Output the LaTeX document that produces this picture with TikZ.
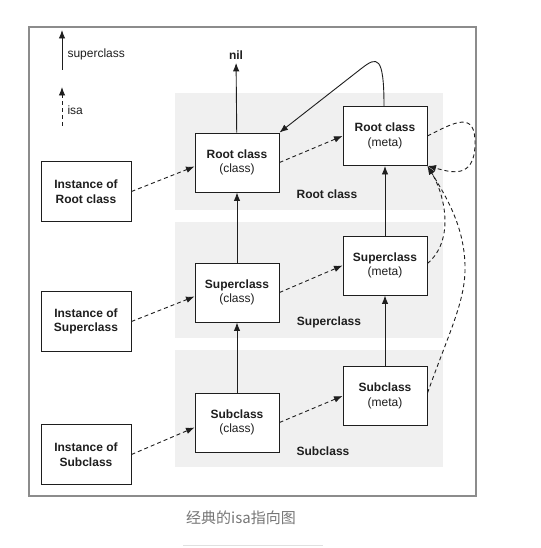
\documentclass[tikz,border=0pt]{standalone}
\usepackage{fontspec}
\setmainfont{Liberation Sans}
\newfontfamily\cjk{Noto Sans CJK SC}
\usetikzlibrary{arrows.meta}
\definecolor{bandgray}{RGB}{240,240,240}
\definecolor{framegray}{RGB}{140,140,140}
\definecolor{capgray}{RGB}{118,118,118}
\definecolor{ink}{RGB}{30,30,30}
\begin{document}
\begin{tikzpicture}[x=1pt,y=-1pt,
  box/.style={draw=ink,line width=0.95pt,fill=white,text=ink,minimum width=84pt,minimum height=59pt,align=center,inner sep=0pt,font=\fontsize{12}{14.5}\selectfont},
  inst/.style={box,minimum width=90pt,minimum height=60pt,font=\fontsize{12}{14.5}\selectfont\bfseries},
  band/.style={fill=bandgray,draw=none},
  supl/.style={line width=0.9pt,draw=ink,-{Latex[length=8.5pt,width=6.5pt]}},
  isal/.style={supl,dash pattern=on 4pt off 3pt},
  lbl/.style={text=ink,font=\fontsize{12}{14}\selectfont\bfseries},
  legtxt/.style={text=ink,anchor=west,font=\fontsize{12}{14}\selectfont},
]
\useasboundingbox (0,0) rectangle (540,548);
% frame
\draw[framegray,line width=1.4pt] (29,27) rectangle (476,496);
% bands
\fill[band] (175,93) rectangle (443,210);
\fill[band] (175,222) rectangle (443,338);
\fill[band] (175,350) rectangle (443,467);
% band labels
\node[lbl] (lblR) at (327,194) {Root class};
\node[lbl] (lblS) at (329,322) {Superclass};
\node[lbl] (lblB) at (323,451) {Subclass};
% legend
\coordinate (lsb) at (62,70);
\coordinate (lst) at (62,30);
\draw[supl] (lsb) -- (lst);
\node[legtxt] (lsuper) at (64,54) {superclass};
\coordinate (lib) at (62,126);
\coordinate (lit) at (62,87);
\draw[isal] (lib) -- (lit);
\node[legtxt] (lisa) at (64,110) {isa};
% instance boxes
\node[inst] (instR) at (86,191.5) {Instance of\\Root class};
\node[inst] (instS) at (86,321.5) {Instance of\\Superclass};
\node[inst] (instB) at (86,454.5) {Instance of\\Subclass};
% class boxes
\node[box] (classR) at (237,162.5) {\textbf{Root class}\\(class)};
\node[box] (classS) at (237,292.5) {\textbf{Superclass}\\(class)};
\node[box] (classB) at (237,422.5) {\textbf{Subclass}\\(class)};
% meta boxes
\node[box] (metaR) at (385,136) {\textbf{Root class}\\(meta)};
\node[box] (metaS) at (385,265.5) {\textbf{Superclass}\\(meta)};
\node[box] (metaB) at (385,396) {\textbf{Subclass}\\(meta)};
% nil
\node[lbl] (nil) at (236,55) {nil};
% superclass arrows
\draw[supl] (classR) -- (nil);
\draw[supl] (classS) -- (classR);
\draw[supl] (classB) -- (classS);
\draw[supl] (metaS) -- (metaR);
\draw[supl] (metaB) -- (metaS);
\draw[supl] ([xshift=-1pt]metaR.north) .. controls (384,55) and (377,56.5) .. (362,68) -- (classR.north east);
% isa arrows
\draw[isal] (instR.east) -- ([yshift=-4pt]classR.west);
\draw[isal] (instS.east) -- ([yshift=-4pt]classS.west);
\draw[isal] (instB.east) -- ([yshift=-5pt]classB.west);
\draw[isal] (classR.east) -- (metaR.west);
\draw[isal] (classS.east) -- (metaS.west);
\draw[isal] (classB.east) -- (metaB.west);
\draw[isal] (metaR.east) .. controls (455,122) and (476,110) .. (475,145) .. controls (474,180) and (450,172) .. (metaR.south east);
\draw[isal] ([yshift=2pt]metaS.east) .. controls (455,240) and (445,195) .. (metaR.south east);
\draw[isal] ([yshift=3pt]metaB.east) .. controls (450,330) and (466,300) .. (465,265) .. controls (464,225) and (445,195) .. (metaR.south east);
% caption
\node[text=capgray,font=\cjk\fontsize{15}{18}\selectfont] (cap) at (241,518) {经典的isa指向图};
\coordinate (ul) at (183,545);
\coordinate (ur) at (323,545);
\draw[black!12,line width=1pt] (ul) -- (ur);
\end{tikzpicture}
\end{document}
